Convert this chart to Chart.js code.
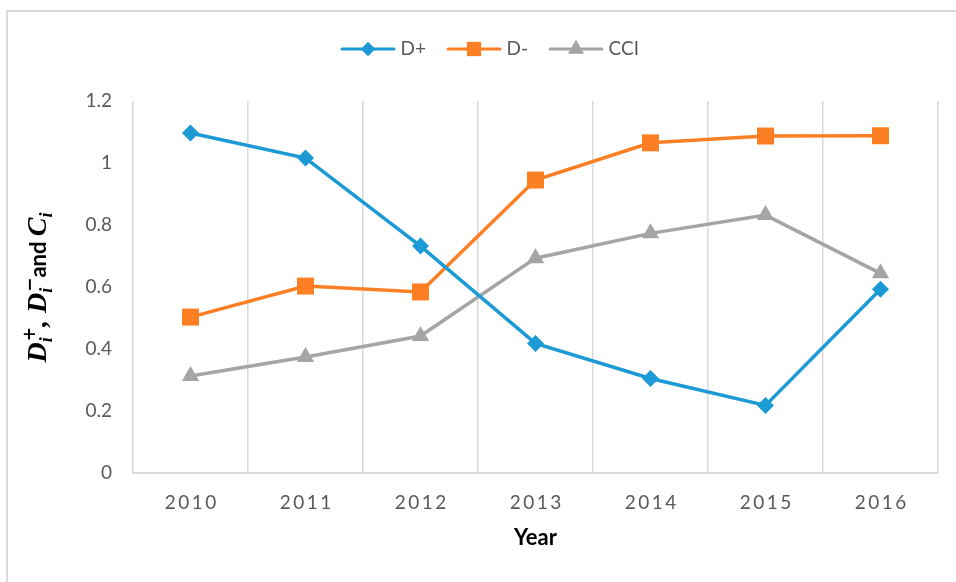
<!DOCTYPE html>
<html><head><meta charset="utf-8">
<script src="https://cdn.jsdelivr.net/npm/chart.js@4.4.1/dist/chart.umd.min.js"></script>
<style>
html,body{margin:0;padding:0;background:#fff;overflow:hidden}
#frame{position:absolute;left:6px;top:10px;width:2000px;height:2000px;border-top:2px solid #d9d9d9;border-left:2px solid #d9d9d9;box-sizing:border-box}
#wrap{position:absolute;left:0;top:0;width:956px;height:582px}
</style></head><body>
<div id="frame"></div>
<div id="wrap"><canvas id="c" width="956" height="582"></canvas></div>
<script>
// ---- data ----
const years = ['2010', '2011', '2012', '2013', '2014', '2015', '2016'];
const dPlus  = [1.097, 1.016, 0.732, 0.418, 0.305, 0.218, 0.593];
const dMinus = [0.503, 0.603, 0.584, 0.945, 1.065, 1.087, 1.088];
const cci    = [0.313, 0.374, 0.442, 0.693, 0.773, 0.832, 0.644];
const seriesNames = ['D+', 'D-', 'CCI'];
const yTicks = [0, 0.2, 0.4, 0.6, 0.8, 1, 1.2];
const yTickLabels = ['0', '0.2', '0.4', '0.6', '0.8', '1', '1.2'];
const xTitle = 'Year';

// ---- styles ----
const colors = ['#1c9ad6', '#fd7f24', '#a5a5a5'];
const styles = ['rectRot', 'rect', 'triangle'];
const radii = [8.5, 12, 10];
const legendRadii = [7, 10, 9];
const tickColor = '#595959';

function makeSwatch(color, style, r) {
  const c = document.createElement('canvas');
  c.width = 56; c.height = 24;
  const g = c.getContext('2d');
  g.strokeStyle = color; g.lineWidth = 3; g.lineCap = 'round';
  g.beginPath(); g.moveTo(2, 12); g.lineTo(54, 12); g.stroke();
  g.fillStyle = color;
  Chart.helpers.drawPoint(g, {pointStyle: style, radius: r, borderWidth: 0, rotation: 0}, 28, 12);
  g.fill();
  return c;
}
const swatches = colors.map((c, i) => makeSwatch(c, styles[i], legendRadii[i]));

const values = [dPlus, dMinus, cci];
const datasets = values.map((v, i) => ({
  label: seriesNames[i],
  data: v,
  borderColor: colors[i],
  backgroundColor: colors[i],
  borderWidth: 3.5,
  tension: 0,
  pointStyle: styles[i],
  pointRadius: radii[i],
  pointBorderWidth: 0,
  pointBackgroundColor: colors[i],
  pointBorderColor: colors[i]
}));

const legendExtra = {
  id: 'legendExtra',
  beforeUpdate(chart) {
    const lg = chart.legend;
    if (lg && !lg._patched) {
      const f = lg.fit;
      lg.fit = function () { f.call(this); this.height += 32.5; };
      lg._patched = true;
    }
  },
  beforeDraw(chart) {
    const s = chart.scales.x;
    if (s && !s._lsPatched) {
      const o = s.drawLabels;
      s.drawLabels = function (a) {
        const ctx = this.ctx; ctx.save(); ctx.letterSpacing = '2.5px'; ctx.translate(1.25, 0);
        o.call(this, a); ctx.restore();
      };
      s._lsPatched = true;
    }
  }
};

// y-axis title: D_i^+, D_i^- and C_i
const yTitleParts = [
  {t: 'D', sub: 'i', sup: '+'},
  {t: ', '},
  {t: 'D', sub: 'i', sup: '\u2212'},
  {t: 'and ', sans: true},
  {t: 'C', sub: 'i'}
];
const yTitle = {
  id: 'yTitle',
  afterDraw(chart) {
    const ctx = chart.ctx;
    const ca = chart.chartArea;
    const big = 'italic bold 28px "Liberation Serif"';
    const small = 'italic bold 18px "Liberation Serif"';
    const supF = 'bold 17px "DejaVu Sans"';
    const sansF = 'bold 22px Lato';
    ctx.save();
    const widths = yTitleParts.map(p => {
      ctx.font = p.sans ? sansF : big;
      let w = ctx.measureText(p.t).width;
      let extra = 0;
      if (p.sub) { ctx.font = small; extra = Math.max(extra, ctx.measureText(p.sub).width); }
      if (p.sup) { ctx.font = supF; extra = Math.max(extra, ctx.measureText(p.sup).width); }
      return w + extra + (p.sub ? 1 : 0);
    });
    const total = widths.reduce((a, b) => a + b, 0);
    const cx = 46, cy = (ca.top + ca.bottom) / 2;
    ctx.translate(cx, cy);
    ctx.rotate(-Math.PI / 2);
    ctx.fillStyle = '#000';
    ctx.textBaseline = 'alphabetic';
    ctx.textAlign = 'left';
    let x = -total / 2;
    yTitleParts.forEach((p, i) => {
      ctx.font = p.sans ? sansF : big;
      ctx.fillText(p.t, x, 0);
      const w = ctx.measureText(p.t).width;
      if (p.sub) { ctx.font = small; ctx.fillText(p.sub, x + w, 6); }
      if (p.sup) { ctx.font = supF; ctx.fillText(p.sup, x + w + 1, -11); }
      x += widths[i];
    });
    ctx.restore();
  }
};

new Chart(document.getElementById('c'), {
  type: 'line',
  data: { labels: years, datasets },
  plugins: [legendExtra, yTitle],
  options: {
    responsive: false,
    animation: false,
    devicePixelRatio: 1,
    layout: { padding: { left: 46, right: 18, top: 14.5, bottom: 0 } },
    plugins: {
      tooltip: { enabled: false },
      legend: {
        position: 'top',
        labels: {
          usePointStyle: true,
          pointStyleWidth: 46,
          padding: 25,
          color: tickColor,
          font: { family: 'Lato', size: 19 },
          generateLabels(chart) {
            const items = Chart.defaults.plugins.legend.labels.generateLabels(chart);
            items.forEach((it, i) => { it.pointStyle = swatches[i]; });
            return items;
          }
        }
      }
    },
    scales: {
      x: {
        offset: true,
        grid: { display: true, offset: true, color: '#d9d9d9', lineWidth: 1.5, drawTicks: false },
        border: { display: true, color: '#d9d9d9', width: 2 },
        ticks: { color: tickColor, font: { family: 'Lato', size: 19 }, padding: 18, maxRotation: 0 },
        title: { display: true, text: xTitle, color: '#000', font: { family: 'Lato', size: 22, weight: 'bold' }, padding: { top: 0, bottom: 31 } },
        afterFit(s) { s.height = 109; }
      },
      y: {
        min: 0, max: 1.2,
        grid: { display: false, drawTicks: false },
        border: { display: false },
        ticks: {
          color: tickColor, font: { family: 'Lato', size: 19 }, padding: 21,
          callback(value) { const i = yTicks.indexOf(value); return i >= 0 ? yTickLabels[i] : ''; }
        },
        afterBuildTicks(s) { s.ticks = yTicks.map(v => ({ value: v })); },
        afterFit(s) { s.width = 87; }
      }
    }
  }
});
</script>
</body></html>
